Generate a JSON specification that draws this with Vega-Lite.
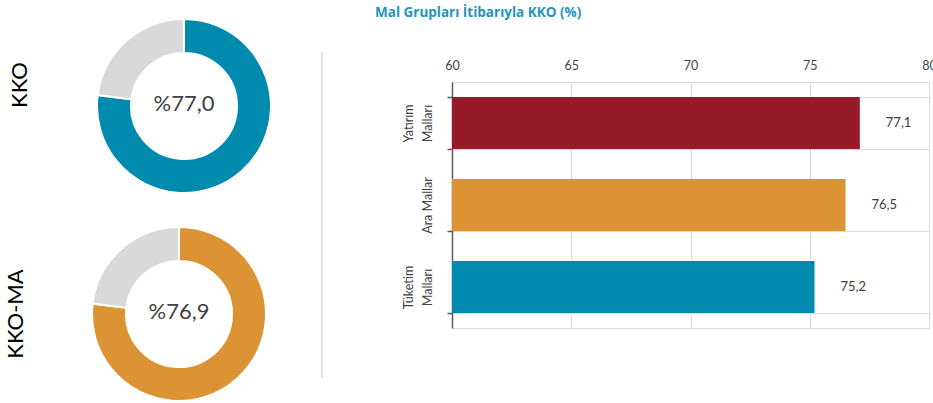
{
  "$schema": "https://vega.github.io/schema/vega-lite/v6.json",
  "padding": {"left": 4, "top": 6, "right": 0, "bottom": 0},
  "background": "white",
  "config": {
    "view": {"stroke": null},
    "font": "Lato",
    "text": {"font": "Lato"},
    "title": {"font": "Lato"},
    "axis": {"labelFont": "Lato"}
  },
  "spacing": 42,
  "resolve": {"scale": {"color": "independent"}},
  "hconcat": [
    {
      "spacing": 26,
      "resolve": {"scale": {"color": "independent", "theta": "independent"}},
      "vconcat": [
        {
          "width": 190,
          "height": 108,
          "title": {"text": "KKO", "orient": "left", "anchor": "middle", "offset": 35, "dx": 21, "fontSize": 22, "fontWeight": "normal", "color": "#000000", "baseline": "bottom"},
          "data": {"values": [
            {"parca": "KKO", "deger": 77.0, "etiket": "%77,0"},
            {"parca": "Kalan", "deger": 23.0, "etiket": "%77,0"}
          ]},
          "layer": [
            {
              "mark": {"type": "arc", "innerRadius": 53, "outerRadius": 87, "stroke": "white", "strokeWidth": 2},
              "encoding": {
                "theta": {"field": "deger", "type": "quantitative", "stack": true},
                "order": {"field": "deger", "type": "quantitative", "sort": "descending"},
                "color": {"field": "parca", "type": "nominal", "scale": {"domain": ["KKO", "Kalan"], "range": ["#008BAE", "#D9D9D9"]}, "legend": null}
              }
            },
            {
              "transform": [{"filter": "datum.parca == 'KKO'"}],
              "mark": {"type": "text", "fontSize": 22, "color": "#404040", "baseline": "middle", "align": "center", "dy": -2},
              "encoding": {"text": {"field": "etiket"}}
            }
          ]
        },
        {
          "width": 180,
          "height": 100,
          "title": {"text": "KKO-MA", "orient": "left", "anchor": "middle", "offset": 38, "fontSize": 22, "fontWeight": "normal", "color": "#000000", "baseline": "bottom"},
          "data": {"values": [
            {"parca": "KKO-MA", "deger": 76.9, "etiket": "%76,9"},
            {"parca": "Kalan", "deger": 23.1, "etiket": "%76,9"}
          ]},
          "layer": [
            {
              "mark": {"type": "arc", "innerRadius": 53, "outerRadius": 87, "stroke": "white", "strokeWidth": 2},
              "encoding": {
                "theta": {"field": "deger", "type": "quantitative", "stack": true},
                "order": {"field": "deger", "type": "quantitative", "sort": "descending"},
                "color": {"field": "parca", "type": "nominal", "scale": {"domain": ["KKO-MA", "Kalan"], "range": ["#DB9333", "#D9D9D9"]}, "legend": null}
              }
            },
            {
              "transform": [{"filter": "datum.parca == 'KKO-MA'"}],
              "mark": {"type": "text", "fontSize": 22, "color": "#404040", "baseline": "middle", "align": "center", "dy": -2},
              "encoding": {"text": {"field": "etiket"}}
            }
          ]
        }
      ]
    },
    {
      "width": 11,
      "height": 326,
      "data": {"values": [{}]},
      "mark": {"type": "rule", "color": "#D9D9D9", "strokeWidth": 1.5},
      "encoding": {
        "x": {"datum": 0, "type": "quantitative", "scale": {"domain": [0, 1]}, "axis": null}
      }
    },
    {
      "spacing": 0,
      "resolve": {"scale": {"color": "independent"}},
      "vconcat": [
        {
          "width": 477,
          "height": 1,
          "title": {"text": "Mal Grupları İtibarıyla KKO (%)", "anchor": "start", "frame": "group", "dx": -77, "offset": 13, "font": "Open Sans", "fontSize": 13.5, "fontWeight": "bold", "color": "#1E95BE", "baseline": "bottom"},
          "data": {"values": [{}]},
          "mark": {"type": "text"},
          "encoding": {"text": {"value": ""}}
        },
        {
          "width": 477,
          "height": 246,
          "view": {"stroke": "#D9D9D9", "strokeWidth": 1},
          "data": {"values": [
            {"grup": "Yatırım Malları", "deger": 77.1, "etiket": "77,1"},
            {"grup": "Ara Mallar", "deger": 76.5, "etiket": "76,5"},
            {"grup": "Tüketim Malları", "deger": 75.2, "etiket": "75,2"}
          ]},
          "encoding": {
            "y": {
              "field": "grup", "type": "nominal", "sort": null,
              "scale": {"paddingInner": 0.366, "paddingOuter": 0.183},
              "axis": {
                "title": null, "orient": "left", "labelAngle": 270, "labelAlign": "center", "labelBaseline": "bottom",
                "labelLineHeight": 19, "labelFontSize": 12.5, "labelColor": "#404040", "labelPadding": 32,
                "labelExpr": "datum.label == 'Ara Mallar' ? ['', 'Ara Mallar'] : split(datum.label, ' ')",
                "encode": {"labels": {"update": {"lineHeight": {"value": 19}}}},
                "tickBand": "extent", "tickSize": 5, "tickColor": "#595959", "tickWidth": 1.5,
                "domainColor": "#595959", "domainWidth": 1.5,
                "grid": true, "gridColor": "#D9D9D9", "gridWidth": 1
              }
            },
            "x": {
              "field": "deger", "type": "quantitative", "stack": null,
              "scale": {"domain": [60, 80], "zero": false, "nice": false},
              "axis": {
                "title": null, "orient": "top", "values": [60, 65, 70, 75, 80], "domain": false, "ticks": false, "tickSize": 0,
                "labelPadding": 10, "labelFontSize": 12.5, "labelColor": "#404040", "labelFlush": false,
                "grid": true, "gridColor": "#D9D9D9", "gridWidth": 1
              }
            }
          },
          "layer": [
            {
              "mark": {"type": "bar"},
              "encoding": {
                "color": {"field": "grup", "type": "nominal", "sort": null,
                  "scale": {"domain": ["Yatırım Malları", "Ara Mallar", "Tüketim Malları"], "range": ["#951B29", "#DB9333", "#008BAE"]},
                  "legend": null}
              }
            },
            {
              "mark": {"type": "text", "align": "left", "baseline": "middle", "dx": 26, "fontSize": 13, "color": "#404040"},
              "encoding": {"text": {"field": "etiket"}}
            }
          ]
        }
      ]
    }
  ]
}
